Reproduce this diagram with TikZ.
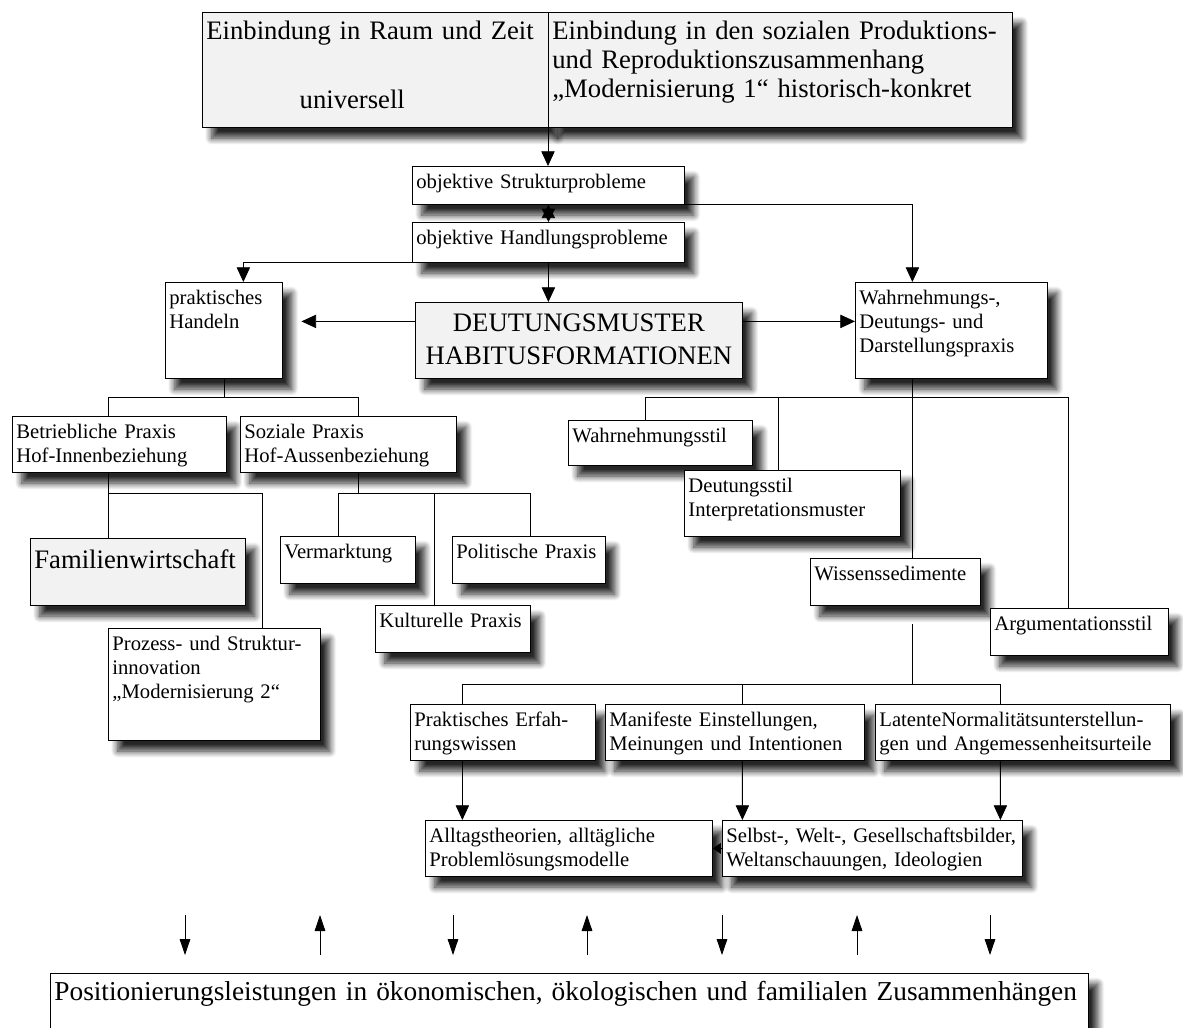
\documentclass[tikz,border=0pt]{standalone}
\usepackage{fontspec}
\setmainfont{Liberation Serif}
\usepackage{tikz}
\usetikzlibrary{arrows.meta, shadows.blur}

\begin{document}
\begin{tikzpicture}[x=0.75pt, y=-0.75pt,
  box/.style={draw, line width=0.6pt, fill=white, anchor=north west, align=left,
    inner sep=3pt, text height=13.5pt, font=\fontsize{15.5}{18}\selectfont,
    blur shadow={shadow xshift=7pt, shadow yshift=-8pt, shadow blur radius=5pt,
      shadow blur steps=10, shadow opacity=85}},
  bigbox/.style={box, fill=gray!10, text height=17pt, font=\fontsize{20}{22}\selectfont},
  ln/.style={line width=0.6pt},
  arr/.style={ln, -{Triangle[length=11pt, width=10pt]}},
  arrk/.style={ln, -{Triangle[length=6pt, width=8pt]}},
  dbl/.style={ln, {Triangle[length=10pt, width=10pt]}-{Triangle[length=10pt, width=10pt]}},
  pfeil/.style={ln, -{Triangle[length=12pt, width=8pt]}}]
  \useasboundingbox (0,0) rectangle (1183,1028);

  \node[bigbox, text width=253.5pt, text depth=63.25pt] (raum) at (202,12)
    {Einbindung in Raum und Zeit\\[30pt]\hspace*{70pt}universell};
  \node[bigbox, text width=342pt, text depth=63.25pt] (sozial) at (548,12)
    {Einbindung in den sozialen Produktions-\\und Reproduktionszusammenhang\\„Modernisierung 1“ historisch-konkret};
  \node[box, text width=198pt, text depth=9pt] (struk) at (412,166) {objektive Strukturprobleme};
  \node[box, text width=198pt, text depth=10.5pt] (handl) at (412,222) {objektive Handlungsprobleme};
  \node[box, text width=81.75pt, text depth=52.5pt] (prakt) at (165,282) {praktisches\\Handeln};
  \node[bigbox, align=center, text width=239.25pt, text height=18.75pt, text depth=32.25pt,
    font=\fontsize{20}{24.75}\selectfont] (deut) at (415,302) {DEUTUNGSMUSTER\\HABITUSFORMATIONEN};
  \node[box, text width=138pt, text depth=52.5pt] (wahr) at (855,282)
    {Wahrnehmungs-,\\Deutungs- und\\Darstellungspraxis};

  \node[box, text width=154.5pt, text depth=22.5pt] (betr) at (12,416) {Betriebliche Praxis\\Hof-Innenbeziehung};
  \node[box, text width=156pt, text depth=22.5pt] (soz) at (240,416) {Soziale Praxis\\Hof-Aussenbeziehung};
  \node[bigbox, text width=155.25pt, text height=19.5pt, text depth=24.75pt] (fam) at (30,538) {Familienwirtschaft};
  \node[box, text width=153pt, text depth=64.5pt] (proz) at (108,628)
    {Prozess- und Struktur-\\innovation\\„Modernisierung 2“};
  \node[box, text width=95.25pt, text depth=15.75pt] (verm) at (280,536) {Vermarktung};
  \node[box, text width=108.75pt, text depth=15.75pt] (pol) at (452,536) {Politische Praxis};
  \node[box, text width=110.25pt, text depth=15.75pt] (kult) at (375,605) {Kulturelle Praxis};

  \node[box, text width=132pt, text depth=14.25pt] (wstil) at (568,420) {Wahrnehmungsstil};
  \node[box, text width=156pt, text depth=30pt] (dstil) at (684,470) {Deutungsstil\\Interpretationsmuster};
  \node[box, text width=121.5pt, text depth=15.75pt] (wiss) at (810,558) {Wissenssedimente};
  \node[box, text width=127.5pt, text depth=15.75pt] (arg) at (990,608) {Argumentationsstil};

  \node[box, text width=132.75pt, text depth=22.5pt] (erf) at (410,704) {Praktisches Erfah-\\rungswissen};
  \node[box, text width=188.25pt, text depth=22.5pt] (mani) at (605,704)
    {Manifeste Einstellungen,\\Meinungen und Intentionen};
  \node[box, text width=215.25pt, text depth=22.5pt] (lat) at (875,704)
    {LatenteNormalitätsunterstellun-\\gen und Angemessenheitsurteile};
  \node[box, text width=209.25pt, text depth=22.5pt] (allt) at (425,820)
    {Alltagstheorien, alltägliche\\Problemlösungsmodelle};
  \node[box, text width=219pt, text depth=22.5pt] (selbst) at (722,820)
    {Selbst-, Welt-, Gesellschaftsbilder,\\Weltanschauungen, Ideologien};

  \node[box, text width=772.5pt, text height=17.25pt, text depth=60pt,
    font=\fontsize{20.5}{22}\selectfont] (pos) at (50,973)
    {Positionierungsleistungen in ökonomischen, ökologischen und familialen Zusammenhängen};

  \draw[arr] (sozial.south west) -- (sozial.south west |- struk.north);
  \draw[dbl] (struk.south) -- (handl.north);
  \draw[arr] (struk.south east) -| ([xshift=-29.25pt]wahr.north);
  \draw[arr] (handl.south west) -| ([xshift=14.6pt]prakt.north);
  \draw[arr] (handl.south) -- (handl.south |- deut.north);
  \draw[arr, shorten >=14pt] ([yshift=14.25pt]deut.west) -- ([yshift=6.75pt]prakt.east);
  \draw[arr] ([yshift=14.25pt]deut.east) -- ([yshift=6.75pt]wahr.west);

  \draw[ln] (prakt.south) -- ++(0,19) -| ([xshift=-8.25pt]betr.north);
  \draw[ln] (prakt.south) -- ++(0,19) -| ([xshift=7.5pt]soz.north);
  \draw[ln] ([xshift=-8.25pt]betr.south) -- ([xshift=-22.1pt]fam.north);
  \draw[ln] ([xshift=-8.25pt]betr.south) -- ++(0,21) -| ([xshift=36pt]proz.north);
  \draw[ln] ([xshift=7.5pt]soz.south) -- ++(0,21) -| ([xshift=-7.1pt]verm.north);
  \draw[ln] ([xshift=7.5pt]soz.south) -- ++(0,21) -| ([xshift=-13.9pt]kult.north);
  \draw[ln] ([xshift=7.5pt]soz.south) -- ++(0,21) -| ([xshift=1.1pt]pol.north);

  \draw[ln] ([xshift=-29.25pt]wahr.south) -- ++(0,19) -| ([xshift=-11.25pt]wstil.north);
  \draw[ln] ([xshift=-29.25pt]wahr.south) -- ++(0,19) -| ([xshift=-10.5pt]dstil.north);
  \draw[ln] ([xshift=-29.25pt]wahr.south) -- ++(0,19) -| ([xshift=12.75pt]wiss.north);
  \draw[ln] ([xshift=-29.25pt]wahr.south) -- ++(0,19) -| ([xshift=-8.25pt]arg.north);

  \draw[ln] ([xshift=12.75pt, yshift=-14pt]wiss.south) -- ++(0,60) -| ([xshift=-30.4pt]erf.north);
  \draw[ln] ([xshift=12.75pt, yshift=-14pt]wiss.south) -- ++(0,60) -| ([xshift=5.6pt]mani.north);
  \draw[ln] ([xshift=12.75pt, yshift=-14pt]wiss.south) -- ++(0,60) -| ([xshift=-16.9pt]lat.north);

  \draw[arr] ([xshift=-30.4pt]erf.south) -- ([xshift=-79.9pt]allt.north);
  \draw[arr] ([xshift=5.6pt]mani.south) -- ([xshift=-97.5pt]selbst.north);
  \draw[arr] ([xshift=-16.9pt]lat.south) -- ([xshift=96pt]selbst.north);
  \draw[arrk] (selbst.west) -- (allt.east);

  \foreach \x [count=\i] in {185,453,722,990}{
    \coordinate (ob\i) at (\x,915);
    \coordinate (ub\i) at (\x,955);
    \draw[pfeil] (ob\i) -- (ub\i);
  }
  \foreach \x [count=\i] in {320,587,857}{
    \coordinate (oa\i) at (\x,915);
    \coordinate (ua\i) at (\x,955);
    \draw[pfeil] (ua\i) -- (oa\i);
  }
\end{tikzpicture}
\end{document}
